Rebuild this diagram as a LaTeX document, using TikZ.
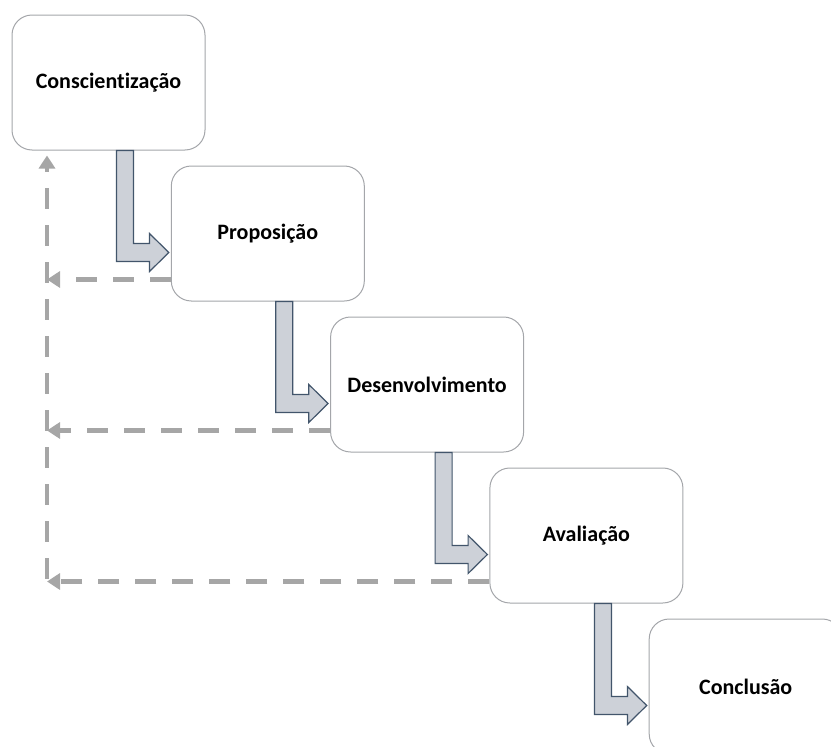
\documentclass[tikz,border=0pt]{standalone}
\usepackage{fontspec}
\setmainfont{Carlito}[Ligatures={NoCommon,NoContextual}]
\usetikzlibrary{arrows.meta,positioning,calc}
\definecolor{caixa}{HTML}{A4A6AA}
\definecolor{setafill}{HTML}{CDD1D8}
\definecolor{setaline}{HTML}{42556B}
\definecolor{volta}{HTML}{A6A6A6}

\newcommand{\passo}[2]{%
  \draw[seta] ([shift={(105,0)}]#1.south west) -- ++(0,111) -- ++(33,0) -- ++(0,10)
    -- ($(#2.west |- #1.south)+(-2,102)$)
    -- ([shift={(138,83)}]#1.south west) -- ++(0,10) -- ++(-16,0) -- ([shift={(122,0)}]#1.south west) -- cycle;
}

\begin{document}
\begin{tikzpicture}[x=1pt,y=-1pt,
    etapa/.style={draw=caixa, line width=1pt, fill=white, rounded corners=20pt,
      minimum width=193pt, minimum height=135pt, font=\fontsize{22}{26}\selectfont\bfseries},
    seta/.style={fill=setafill, draw=setaline, line width=1.2pt, line join=miter},
    retorno/.style={draw=volta, line width=4.5pt, dash pattern=on 21pt off 16pt,
      -{Triangle[length=13pt,width=16pt]}}]
  \clip (0,0) rectangle (831,747);

  % etapas
  \node[etapa] (consc) at (108.5,82.5) {Conscientização};
  \node[etapa] (prop) at ([shift={(159.3,151)}]consc) {Proposição};
  \node[etapa] (desenv) at ([shift={(159.3,151)}]prop) {Desenvolvimento};
  \node[etapa] (aval) at ([shift={(159.3,151)}]desenv) {Avaliação};
  \node[etapa] (concl) at ([shift={(159.3,151)}]aval) {Conclusão};

  % setas entre etapas
  \passo{consc}{prop}
  \passo{prop}{desenv}
  \passo{desenv}{aval}
  \passo{aval}{concl}

  % retornos
  \coordinate (trilho) at (47,0);
  \coordinate (r1) at ($(prop.south west)+(0,-22)$);
  \coordinate (r2) at ($(desenv.south west)+(0,-22)$);
  \coordinate (r3) at ($(aval.south west)+(0,-22)$);
  \coordinate (topo) at ($(consc.south -| trilho)+(0,5)$);
  \draw[retorno] (r1) -- (trilho |- r1);
  \draw[retorno] (r2) -- (trilho |- r2);
  \draw[retorno] (r3) -- (trilho |- r3);
  \draw[retorno] ($(trilho |- r3)+(0,-3)$) -- (topo);
\end{tikzpicture}
\end{document}
